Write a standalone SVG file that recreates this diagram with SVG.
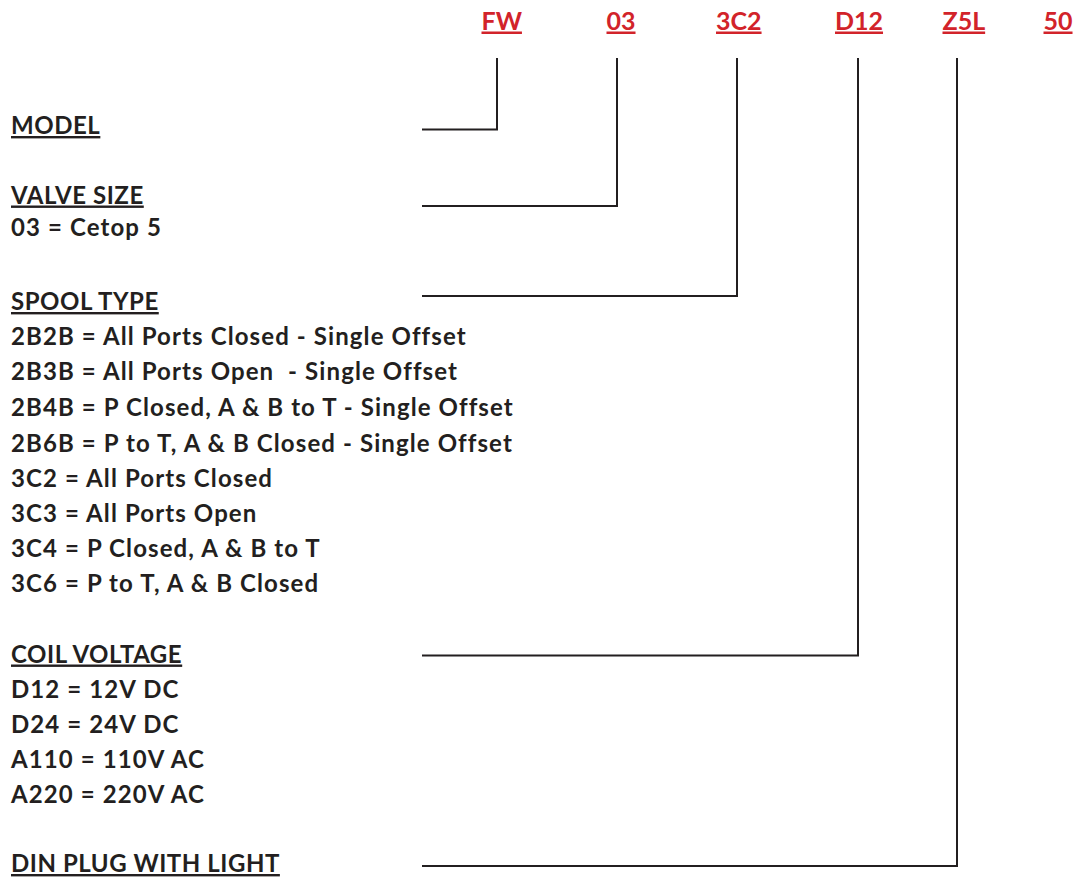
<svg xmlns="http://www.w3.org/2000/svg" width="1075" height="877" viewBox="0 0 1075 877">
<style>
.t{font-family:Lato,"Liberation Sans",sans-serif;font-weight:700;font-size:24px;letter-spacing:1.1px;fill:#231f20}
.h{text-decoration:underline;letter-spacing:0.55px}
.c{font-family:Lato,"Liberation Sans",sans-serif;font-weight:700;font-size:25px;fill:#d2232a;text-decoration:underline}
.w{fill:none;stroke:#231f20;stroke-width:2}
</style>
<rect width="1075" height="877" fill="#fff"/>
<g id="codes">
<text class="c" x="481.5" y="29.5">FW</text>
<text class="c" x="606.5" y="29.5">03</text>
<text class="c" x="716" y="29.5">3C2</text>
<text class="c" x="835" y="29.5">D12</text>
<text class="c" x="942.5" y="29.5">Z5L</text>
<text class="c" x="1043.5" y="29.5">50</text>
</g>
<g id="model"><text class="t h" x="11" y="134">MODEL</text></g>
<g id="valve-size">
<text class="t h" x="11" y="203.5">VALVE SIZE</text>
<text class="t" x="11" y="236">03 = Cetop 5</text>
</g>
<g id="spool-type">
<text class="t h" x="11" y="310">SPOOL TYPE</text>
<text class="t" x="11" y="345">2B2B = All Ports Closed - Single Offset</text>
<text class="t" x="11" y="380" xml:space="preserve">2B3B = All Ports Open  - Single Offset</text>
<text class="t" x="11" y="416">2B4B = P Closed, A &amp; B to T - Single Offset</text>
<text class="t" x="11" y="451.5">2B6B = P to T, A &amp; B Closed - Single Offset</text>
<text class="t" x="11" y="486.5">3C2 = All Ports Closed</text>
<text class="t" x="11" y="521.5">3C3 = All Ports Open</text>
<text class="t" x="11" y="556.5">3C4 = P Closed, A &amp; B to T</text>
<text class="t" x="11" y="591.5">3C6 = P to T, A &amp; B Closed</text>
</g>
<g id="coil-voltage">
<text class="t h" x="11" y="662.5">COIL VOLTAGE</text>
<text class="t" x="11" y="698">D12 = 12V DC</text>
<text class="t" x="11" y="733">D24 = 24V DC</text>
<text class="t" x="11" y="768">A110 = 110V AC</text>
<text class="t" x="11" y="803">A220 = 220V AC</text>
</g>
<g id="din-plug"><text class="t h" x="11" y="872">DIN PLUG WITH LIGHT</text></g>
<g id="connectors">
<polyline class="w" points="422,129.5 497,129.5 497,58"/>
<polyline class="w" points="422,206 617,206 617,58"/>
<polyline class="w" points="422,296 737,296 737,58"/>
<polyline class="w" points="422,655.5 858,655.5 858,58"/>
<polyline class="w" points="422,866 957,866 957,58"/>
</g>
</svg>
